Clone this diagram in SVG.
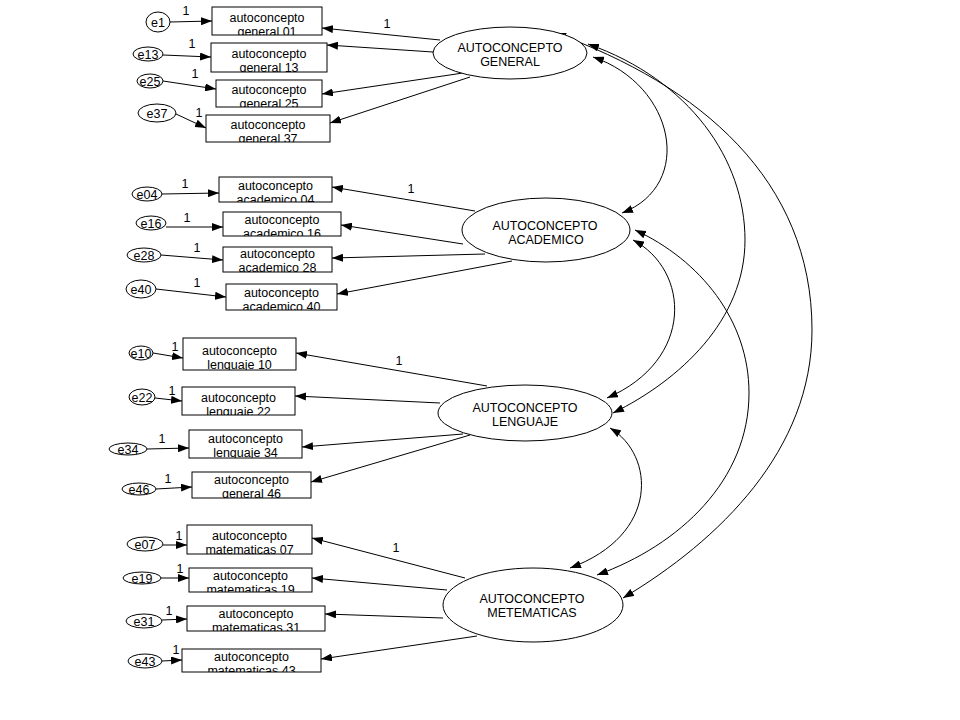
<svg xmlns="http://www.w3.org/2000/svg" width="960" height="720" viewBox="0 0 960 720">
<defs>
<style>
.box{fill:#fff;stroke:#000;stroke-width:1}
.el{fill:#fff;stroke:#000;stroke-width:1}
.t{font-family:"Liberation Sans",Arial,sans-serif;font-size:12.5px;fill:#000;text-anchor:middle}
.ln{fill:none;stroke:#000;stroke-width:1;marker-end:url(#ah)}
.cv{fill:none;stroke:#000;stroke-width:1;marker-start:url(#ah);marker-end:url(#ah)}
</style>
<marker id="ah" viewBox="0 0 11 8" refX="11" refY="4" markerWidth="11" markerHeight="8" markerUnits="userSpaceOnUse" orient="auto-start-reverse"><path d="M0,0 L11,4 L0,8 z" fill="#000"/></marker>
<clipPath id="c-g01"><rect x="212" y="7" width="110" height="28"/></clipPath>
<clipPath id="c-g13"><rect x="211" y="43" width="116" height="29"/></clipPath>
<clipPath id="c-g25"><rect x="216" y="80" width="106" height="27"/></clipPath>
<clipPath id="c-g37"><rect x="206" y="115" width="124" height="27"/></clipPath>
<clipPath id="c-a04"><rect x="219" y="177" width="113" height="25"/></clipPath>
<clipPath id="c-a16"><rect x="223" y="212" width="118" height="24"/></clipPath>
<clipPath id="c-a28"><rect x="223" y="247" width="109" height="25"/></clipPath>
<clipPath id="c-a40"><rect x="226" y="284" width="111" height="26"/></clipPath>
<clipPath id="c-l10"><rect x="183" y="338" width="113" height="32"/></clipPath>
<clipPath id="c-l22"><rect x="182" y="387" width="113" height="28"/></clipPath>
<clipPath id="c-l34"><rect x="189" y="430" width="113" height="28"/></clipPath>
<clipPath id="c-l46"><rect x="192" y="472" width="119" height="26"/></clipPath>
<clipPath id="c-m07"><rect x="187" y="525" width="125" height="29"/></clipPath>
<clipPath id="c-m19"><rect x="189" y="568" width="123" height="24"/></clipPath>
<clipPath id="c-m31"><rect x="187" y="606" width="138" height="25"/></clipPath>
<clipPath id="c-m43"><rect x="182" y="649" width="139" height="23"/></clipPath>
</defs>
<rect x="0" y="0" width="960" height="720" fill="#fff"/>

<g id="connectors">
<path class="ln" d="M170,22 L212,21"/>
<path class="ln" d="M163,55 L211,57"/>
<path class="ln" d="M163,81 L216,89"/>
<path class="ln" d="M176,114 L206,128"/>
<path class="ln" d="M162,194 L219,193"/>
<path class="ln" d="M166,227 L223,227"/>
<path class="ln" d="M161,255 L223,260"/>
<path class="ln" d="M156,289 L226,297"/>
<path class="ln" d="M153,353 L183,358"/>
<path class="ln" d="M155,398 L182,401"/>
<path class="ln" d="M147,449 L189,448"/>
<path class="ln" d="M156,489 L192,487"/>
<path class="ln" d="M163,545 L187,545"/>
<path class="ln" d="M161,578 L189,578"/>
<path class="ln" d="M162,620 L187,619"/>
<path class="ln" d="M162,661 L182,660"/>

<path class="ln" d="M440,40 L322,28"/>
<path class="ln" d="M433,52 L327,45"/>
<path class="ln" d="M463,73 L322,94"/>
<path class="ln" d="M470,77 L330,123"/>
<path class="ln" d="M475,211 L332,187"/>
<path class="ln" d="M463,244 L341,225"/>
<path class="ln" d="M485,254 L332,258"/>
<path class="ln" d="M512,261 L337,294"/>
<path class="ln" d="M487,386 L296,353"/>
<path class="ln" d="M440,403 L295,396"/>
<path class="ln" d="M463,434 L302,447"/>
<path class="ln" d="M470,435 L311,482"/>
<path class="ln" d="M465,578 L312,538"/>
<path class="ln" d="M447,590 L312,578"/>
<path class="ln" d="M443,618 L325,614"/>
<path class="ln" d="M477,636 L321,659"/>

<path class="cv" d="M593,57 C675,85 695,185 622,213"/>
<path class="cv" d="M588,44 C690,80 745,160 745,240 C745,320 680,380 613,413"/>
<path class="cv" d="M555,33 C700,85 812,180 812,330 C812,450 720,540 623,598"/>
<path class="cv" d="M635,230 C700,260 749,320 749,393 C749,480 680,545 597,575"/>
<path class="cv" d="M633,240 C690,270 695,360 607,398"/>
<path class="cv" d="M610,428 C655,455 660,535 570,568"/>

<g class="t">
<text x="186" y="15">1</text>
<text x="192" y="48">1</text>
<text x="195" y="78">1</text>
<text x="199" y="117">1</text>
<text x="185" y="188">1</text>
<text x="187" y="222">1</text>
<text x="197" y="252">1</text>
<text x="197" y="287">1</text>
<text x="175" y="351">1</text>
<text x="172" y="395">1</text>
<text x="162" y="443">1</text>
<text x="168" y="483">1</text>
<text x="179" y="540">1</text>
<text x="180" y="573">1</text>
<text x="169" y="615">1</text>
<text x="176" y="654">1</text>
<text x="387" y="28">1</text>
<text x="411" y="193">1</text>
<text x="399" y="365">1</text>
<text x="396" y="552">1</text>
</g>
</g>

<g id="GENERAL"><ellipse class="el" cx="510" cy="53" rx="77" ry="26"/><text class="t" x="510" y="52">AUTOCONCEPTO</text><text class="t" x="510" y="66">GENERAL</text></g>
<g id="ACADEMICO"><ellipse class="el" cx="546" cy="230" rx="84" ry="32"/><text class="t" x="545" y="230">AUTOCONCEPTO</text><text class="t" x="546" y="244">ACADEMICO</text></g>
<g id="LENGUAJE"><ellipse class="el" cx="525" cy="413" rx="87" ry="28"/><text class="t" x="525" y="412">AUTOCONCEPTO</text><text class="t" x="525" y="426">LENGUAJE</text></g>
<g id="METEMATICAS"><ellipse class="el" cx="533" cy="605" rx="90" ry="37"/><text class="t" x="532" y="603">AUTOCONCEPTO</text><text class="t" x="532" y="617">METEMATICAS</text></g>

<g id="g01"><rect class="box" x="212" y="7" width="110" height="28"/><g clip-path="url(#c-g01)"><text class="t" x="267" y="21.5">autoconcepto</text><text class="t" x="267" y="35.5">general 01</text></g></g>
<g id="g13"><rect class="box" x="211" y="43" width="116" height="29"/><g clip-path="url(#c-g13)"><text class="t" x="269" y="57.5">autoconcepto</text><text class="t" x="269" y="71.5">general 13</text></g></g>
<g id="g25"><rect class="box" x="216" y="80" width="106" height="27"/><g clip-path="url(#c-g25)"><text class="t" x="269" y="93.5">autoconcepto</text><text class="t" x="269" y="107.5">general 25</text></g></g>
<g id="g37"><rect class="box" x="206" y="115" width="124" height="27"/><g clip-path="url(#c-g37)"><text class="t" x="268" y="128.5">autoconcepto</text><text class="t" x="268" y="142.5">general 37</text></g></g>

<g id="a04"><rect class="box" x="219" y="177" width="113" height="25"/><g clip-path="url(#c-a04)"><text class="t" x="275.5" y="190">autoconcepto</text><text class="t" x="275.5" y="204">academico 04</text></g></g>
<g id="a16"><rect class="box" x="223" y="212" width="118" height="24"/><g clip-path="url(#c-a16)"><text class="t" x="282" y="224">autoconcepto</text><text class="t" x="282" y="238">academico 16</text></g></g>
<g id="a28"><rect class="box" x="223" y="247" width="109" height="25"/><g clip-path="url(#c-a28)"><text class="t" x="277.5" y="258">autoconcepto</text><text class="t" x="277.5" y="272">academico 28</text></g></g>
<g id="a40"><rect class="box" x="226" y="284" width="111" height="26"/><g clip-path="url(#c-a40)"><text class="t" x="281.5" y="297">autoconcepto</text><text class="t" x="281.5" y="311">academico 40</text></g></g>

<g id="l10"><rect class="box" x="183" y="338" width="113" height="32"/><g clip-path="url(#c-l10)"><text class="t" x="239.5" y="354.5">autoconcepto</text><text class="t" x="239.5" y="368.5">lenguaje 10</text></g></g>
<g id="l22"><rect class="box" x="182" y="387" width="113" height="28"/><g clip-path="url(#c-l22)"><text class="t" x="238.5" y="401.5">autoconcepto</text><text class="t" x="238.5" y="415.5">lenguaje 22</text></g></g>
<g id="l34"><rect class="box" x="189" y="430" width="113" height="28"/><g clip-path="url(#c-l34)"><text class="t" x="245.5" y="443">autoconcepto</text><text class="t" x="245.5" y="457">lenguaje 34</text></g></g>
<g id="l46"><rect class="box" x="192" y="472" width="119" height="26"/><g clip-path="url(#c-l46)"><text class="t" x="251.5" y="484">autoconcepto</text><text class="t" x="251.5" y="498">general 46</text></g></g>

<g id="m07"><rect class="box" x="187" y="525" width="125" height="29"/><g clip-path="url(#c-m07)"><text class="t" x="249.5" y="540">autoconcepto</text><text class="t" x="249.5" y="554">matematicas 07</text></g></g>
<g id="m19"><rect class="box" x="189" y="568" width="123" height="24"/><g clip-path="url(#c-m19)"><text class="t" x="250.5" y="580">autoconcepto</text><text class="t" x="250.5" y="594">matematicas 19</text></g></g>
<g id="m31"><rect class="box" x="187" y="606" width="138" height="25"/><g clip-path="url(#c-m31)"><text class="t" x="256" y="618">autoconcepto</text><text class="t" x="256" y="632">matematicas 31</text></g></g>
<g id="m43"><rect class="box" x="182" y="649" width="139" height="23"/><g clip-path="url(#c-m43)"><text class="t" x="251.5" y="661">autoconcepto</text><text class="t" x="251.5" y="675">matematicas 43</text></g></g>

<g id="e1"><ellipse class="el" cx="158" cy="22" rx="12" ry="10"/><text class="t" x="158" y="27">e1</text></g>
<g id="e13"><ellipse class="el" cx="148" cy="54" rx="15" ry="7"/><text class="t" x="148" y="59">e13</text></g>
<g id="e25"><ellipse class="el" cx="150" cy="81" rx="13" ry="7"/><text class="t" x="150" y="86">e25</text></g>
<g id="e37"><ellipse class="el" cx="157" cy="113" rx="19" ry="9"/><text class="t" x="157" y="118">e37</text></g>
<g id="e04"><ellipse class="el" cx="147" cy="194" rx="15" ry="7"/><text class="t" x="147" y="199">e04</text></g>
<g id="e16"><ellipse class="el" cx="151" cy="223" rx="15" ry="7"/><text class="t" x="151" y="228">e16</text></g>
<g id="e28"><ellipse class="el" cx="144" cy="255" rx="17" ry="7"/><text class="t" x="144" y="260">e28</text></g>
<g id="e40"><ellipse class="el" cx="141" cy="289" rx="15" ry="9"/><text class="t" x="141" y="294">e40</text></g>
<g id="e10"><ellipse class="el" cx="141" cy="353" rx="12" ry="7"/><text class="t" x="141" y="358">e10</text></g>
<g id="e22"><ellipse class="el" cx="142" cy="397" rx="13" ry="8"/><text class="t" x="142" y="402">e22</text></g>
<g id="e34"><ellipse class="el" cx="128" cy="449" rx="19" ry="6"/><text class="t" x="128" y="454">e34</text></g>
<g id="e46"><ellipse class="el" cx="139" cy="489" rx="17" ry="6"/><text class="t" x="139" y="494">e46</text></g>
<g id="e07"><ellipse class="el" cx="145" cy="544" rx="18" ry="7"/><text class="t" x="145" y="549">e07</text></g>
<g id="e19"><ellipse class="el" cx="142" cy="578" rx="19" ry="6"/><text class="t" x="142" y="583">e19</text></g>
<g id="e31"><ellipse class="el" cx="144" cy="621" rx="18" ry="7"/><text class="t" x="144" y="626">e31</text></g>
<g id="e43"><ellipse class="el" cx="145" cy="661" rx="17" ry="7"/><text class="t" x="145" y="666">e43</text></g>
</svg>
